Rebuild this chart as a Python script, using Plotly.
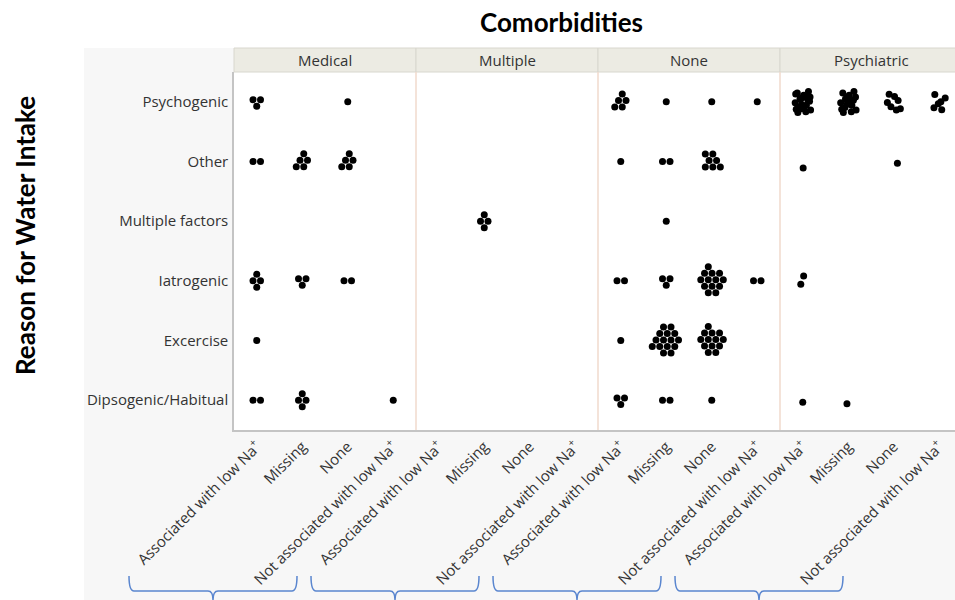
import math
import plotly.graph_objects as go

# ---- data -------------------------------------------------------------
comorbidities = ["Medical", "Multiple", "None", "Psychiatric"]
sodium_status = [
    "Associated with low Na<sup>+</sup>",
    "Missing",
    "None",
    "Not associated with low Na<sup>+</sup>",
]
reasons = [
    "Dipsogenic/Habitual",
    "Excercise",
    "Iatrogenic",
    "Multiple factors",
    "Other",
    "Psychogenic",
]

# patient counts: one row per reason (bottom to top), one column per sodium status
medical_counts = [
    [2, 4, 0, 1],
    [1, 0, 0, 0],
    [4, 3, 2, 0],
    [0, 0, 0, 0],
    [2, 5, 5, 0],
    [3, 0, 1, 0],
]
multiple_counts = [
    [0, 0, 0, 0],
    [0, 0, 0, 0],
    [0, 0, 0, 0],
    [0, 4, 0, 0],
    [0, 0, 0, 0],
    [0, 0, 0, 0],
]
none_counts = [
    [3, 2, 1, 0],
    [1, 15, 13, 0],
    [2, 3, 13, 2],
    [0, 1, 0, 0],
    [1, 2, 7, 0],
    [5, 1, 1, 1],
]
psychiatric_counts = [
    [1, 1, 0, 0],
    [0, 0, 0, 0],
    [2, 0, 0, 0],
    [0, 0, 0, 0],
    [1, 0, 1, 0],
    [20, 16, 7, 6],
]
panel_counts = [medical_counts, multiple_counts, none_counts, psychiatric_counts]

# ---- layout geometry (pixels) ----------------------------------------
FIG_W, FIG_H = 955, 600
ML, MT, MR, MB = 234, 72, 0, 170
PLOT_W = FIG_W - ML - MR
PLOT_H = FIG_H - MT - MB
COL_PX = 45.5
X_LO = -0.5
X_HI = X_LO + PLOT_W / COL_PX
ROW_PX = PLOT_H / len(reasons)
N_COLS = len(sodium_status)
PANEL_PX = N_COLS * COL_PX

TEXT = "#333333"
LABEL_FONT = "Open Sans"
TITLE_FONT = "Lato"


def px_x(p):
    return (p - ML) / PLOT_W


def px_y(p):
    return (MT + PLOT_H - p) / PLOT_H


def hex_cluster(n, seed=0, step=7.5):
    """Pack n dots on a hexagonal grid around the category centre."""
    if n == 0:
        return []
    R = int(math.ceil(math.sqrt(n))) + 2
    pts = []
    for r in range(-R, R + 1):
        for c in range(-R, R + 1):
            pts.append((c + 0.5 * (r % 2), r * math.sqrt(3) / 2))
    cx, cy = 0.5, -0.2
    pts.sort(key=lambda p: (round((p[0] - cx) ** 2 + (p[1] - cy) ** 2, 6), -p[1], p[0]))
    sel = pts[:n]
    mx = sum(p[0] for p in sel) / n
    my = sum(p[1] for p in sel) / n
    return [((p[0] - mx) * step, (p[1] - my) * step) for p in sel]


def halton(i, b):
    f, r = 1.0, 0.0
    while i > 0:
        f /= b
        r += f * (i % b)
        i //= b
    return r


def jitter_cluster(n, seed=0):
    """Overlapping jittered spread (fixed jitter box) for the Psychiatric group."""
    if n == 0:
        return []
    sx = min(8.5, 1.2 * math.sqrt(n) + 4.0)
    sy = min(11.0, 1.6 * math.sqrt(n) + 5.0)
    start = 1 + 5 * seed
    return [((halton(i, 2) - 0.5) * 2 * sx, (halton(i, 3) - 0.5) * 2 * sy)
            for i in range(start, start + n)]


xs, ys = [], []
for p, counts in enumerate(panel_counts):
    layout_fn = jitter_cluster if comorbidities[p] == "Psychiatric" else hex_cluster
    for r, row in enumerate(counts):
        for c, n in enumerate(row):
            for dx, dy in layout_fn(n, seed=r * N_COLS + c):
                xs.append(p * N_COLS + c + dx / COL_PX)
                ys.append(r + dy / ROW_PX)

fig = go.Figure(
    go.Scatter(
        x=xs,
        y=ys,
        mode="markers",
        marker=dict(size=7, color="black", line=dict(width=0)),
        hoverinfo="skip",
        showlegend=False,
    )
)

shapes = []
# white page margin above and left of the graph frame
shapes.append(dict(type="rect", xref="paper", yref="paper", layer="below",
                   x0=px_x(0), x1=px_x(FIG_W), y0=px_y(0), y1=px_y(48),
                   fillcolor="white", line=dict(width=0)))
shapes.append(dict(type="rect", xref="paper", yref="paper", layer="below",
                   x0=px_x(0), x1=px_x(84), y0=px_y(48), y1=px_y(FIG_H),
                   fillcolor="white", line=dict(width=0)))

annotations = []
for p, name in enumerate(comorbidities):
    left = ML + p * PANEL_PX
    # panel header strip
    shapes.append(dict(type="rect", xref="paper", yref="paper",
                       x0=px_x(left), x1=px_x(left + PANEL_PX),
                       y0=px_y(MT), y1=px_y(48),
                       fillcolor="#ecebe3", line=dict(color="#d8d7ce", width=1)))
    annotations.append(dict(text=name, xref="paper", yref="paper",
                            x=px_x(left + PANEL_PX / 2), y=px_y(60.5),
                            showarrow=False, xanchor="center", yanchor="middle",
                            font=dict(family=LABEL_FONT, size=15, color=TEXT)))
    # panel divider
    if p > 0:
        shapes.append(dict(type="line", xref="paper", yref="paper",
                           x0=px_x(left), x1=px_x(left), y0=0, y1=1,
                           line=dict(color="#f1dacd", width=1.5)))
    # brace grouping the rotated labels of this panel
    bx0 = left - 105
    bx1 = bx0 + 168
    bxc = (bx0 + bx1) / 2
    yt, ym, yb = 576, 591, 600
    rr = 5
    path = (
        f"M {px_x(bx0)},{px_y(yt)} "
        f"Q {px_x(bx0)},{px_y(ym)} {px_x(bx0 + rr)},{px_y(ym)} "
        f"L {px_x(bxc - rr)},{px_y(ym)} "
        f"Q {px_x(bxc)},{px_y(ym)} {px_x(bxc)},{px_y(yb)} "
        f"Q {px_x(bxc)},{px_y(ym)} {px_x(bxc + rr)},{px_y(ym)} "
        f"L {px_x(bx1 - rr)},{px_y(ym)} "
        f"Q {px_x(bx1)},{px_y(ym)} {px_x(bx1)},{px_y(yt)}"
    )
    shapes.append(dict(type="path", xref="paper", yref="paper", path=path,
                       line=dict(color="#5a86cf", width=1.5)))

annotations.append(dict(text="<b>Comorbidities</b>", xref="paper", yref="paper",
                        x=px_x(561), y=px_y(22), showarrow=False,
                        xanchor="center", yanchor="middle",
                        font=dict(family=TITLE_FONT, size=26, color="black")))
annotations.append(dict(text="<b>Reason for Water Intake</b>", xref="paper", yref="paper",
                        x=px_x(25), y=px_y(236), showarrow=False, textangle=-90,
                        xanchor="center", yanchor="middle",
                        font=dict(family=TITLE_FONT, size=26, color="black")))

fig.update_layout(
    width=FIG_W,
    height=FIG_H,
    margin=dict(l=ML, r=MR, t=MT, b=MB, pad=0),
    paper_bgcolor="#f7f7f7",
    plot_bgcolor="white",
    shapes=shapes,
    annotations=annotations,
    xaxis=dict(
        range=[X_LO, X_HI],
        tickmode="array",
        tickvals=list(range(len(comorbidities) * N_COLS)),
        ticktext=sodium_status * len(comorbidities),
        tickangle=-45,
        ticks="",
        showgrid=False,
        zeroline=False,
        showline=True,
        linecolor="#c4c4c4",
        linewidth=2,
        tickfont=dict(family=LABEL_FONT, size=15, color=TEXT),
        fixedrange=True,
    ),
    yaxis=dict(
        range=[-0.5, len(reasons) - 0.5],
        tickmode="array",
        tickvals=list(range(len(reasons))),
        ticktext=reasons,
        ticks="",
        showgrid=False,
        zeroline=False,
        showline=True,
        linecolor="#c4c4c4",
        linewidth=1.5,
        ticklabelstandoff=1,
        tickfont=dict(family=LABEL_FONT, size=15, color=TEXT),
        fixedrange=True,
    ),
)

fig.write_html("out.html", config={"displayModeBar": False})
